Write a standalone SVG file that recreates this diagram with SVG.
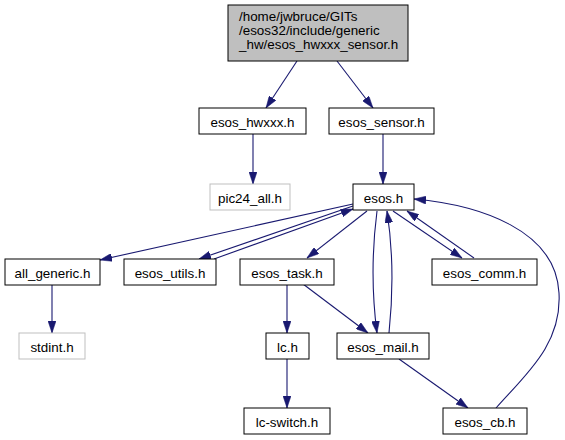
<svg xmlns="http://www.w3.org/2000/svg" width="565" height="440" viewBox="0 0 565 440">
<defs>
<style>
.n rect{fill:#fff;stroke:#000;stroke-width:1}
.n.g rect{stroke:#bfbfbf}
.n.top rect{fill:#bfbfbf}
text{font-family:"Liberation Sans",Arial,sans-serif;font-size:13.4px;fill:#000}
.c{text-anchor:middle}
#edges path{fill:none;stroke:#191970;stroke-width:1.1;marker-end:url(#ah)}
</style>
<marker id="ah" viewBox="0 0 12 8" refX="12" refY="4" markerWidth="12" markerHeight="8" markerUnits="userSpaceOnUse" orient="auto">
<polygon points="0,0 12,4 0,8" fill="#191970" stroke="#191970" stroke-width="0.5"/>
</marker>
</defs>
<rect width="565" height="440" fill="#fff"/>
<g id="edges">
<path d="M297,61 L266,108"/>
<path d="M337,61 L373,108"/>
<path d="M253,134 L253,184"/>
<path d="M383,134 L383,184"/>
<path d="M353,204 L100,260"/>
<path d="M353,206 L199,259"/>
<path d="M214,259 L353,209"/>
<path d="M367,211 L307,258"/>
<path d="M377,211 C372,250 372,295 377,333"/>
<path d="M389,333 C393,295 393,250 387,211"/>
<path d="M393,211 L462,258"/>
<path d="M474,258 L407,211"/>
<path d="M496,408 C525,375 562,345 559,293 C556,230 480,205 414,199"/>
<path d="M287,284 L287,333"/>
<path d="M303,284 L368,333"/>
<path d="M399,359 L468,408"/>
<path d="M287,359 L287,408"/>
<path d="M52,285 L52,333"/>
</g>
<g id="n_top" class="n top"><rect x="228" y="5" width="180" height="56"/>
<text x="239" y="21">/home/jwbruce/GITs</text>
<text x="239" y="35">/esos32/include/generic</text>
<text x="239" y="49">_hw/esos_hwxxx_sensor.h</text></g>
<g id="n_hwxxx" class="n"><rect x="199" y="108" width="107" height="26"/><text class="c" x="252.5" y="126.5">esos_hwxxx.h</text></g>
<g id="n_sensor" class="n"><rect x="329" y="108" width="105" height="26"/><text class="c" x="381.5" y="126.5">esos_sensor.h</text></g>
<g id="n_pic24" class="n g"><rect x="210" y="184" width="80" height="26"/><text class="c" x="250" y="202.5">pic24_all.h</text></g>
<g id="n_esos" class="n"><rect x="353" y="184" width="61" height="26"/><text class="c" x="383.5" y="202.5">esos.h</text></g>
<g id="n_allgen" class="n"><rect x="5" y="259" width="95" height="26"/><text class="c" x="52.5" y="277.5">all_generic.h</text></g>
<g id="n_utils" class="n"><rect x="124" y="259" width="92" height="26"/><text class="c" x="170" y="277.5">esos_utils.h</text></g>
<g id="n_task" class="n"><rect x="240" y="259" width="94" height="26"/><text class="c" x="287" y="277.5">esos_task.h</text></g>
<g id="n_comm" class="n"><rect x="432" y="259" width="105" height="26"/><text class="c" x="484.5" y="277.5">esos_comm.h</text></g>
<g id="n_stdint" class="n g"><rect x="19" y="333" width="66" height="26"/><text class="c" x="52" y="351.5">stdint.h</text></g>
<g id="n_lc" class="n"><rect x="266" y="333" width="43" height="26"/><text class="c" x="287.5" y="351.5">lc.h</text></g>
<g id="n_mail" class="n"><rect x="337" y="333" width="92" height="26"/><text class="c" x="383" y="351.5">esos_mail.h</text></g>
<g id="n_lcsw" class="n"><rect x="244" y="408" width="86" height="26"/><text class="c" x="287" y="426.5">lc-switch.h</text></g>
<g id="n_cb" class="n"><rect x="443" y="408" width="84" height="26"/><text class="c" x="485" y="426.5">esos_cb.h</text></g>
</svg>
